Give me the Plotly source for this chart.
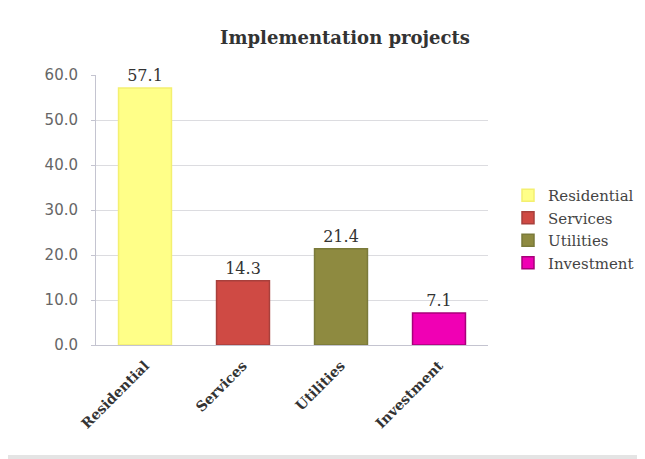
import plotly.graph_objects as go

categories = ["Residential", "Services", "Utilities", "Investment"]
values = [57.1, 14.3, 21.4, 7.1]
labels = ["57.1", "14.3", "21.4", "7.1"]
colors = ["#FFFF88", "#CF4A44", "#8E8A40", "#F000B4"]
edges = ["#F4F070", "#A8403C", "#7A7A3A", "#A8007A"]

W, H = 637, 451
L, R, T, B = 88, 157, 67, 114
PW, PH = W - L - R, H - T - B

fig = go.Figure()
for c, v, t, col, ec in zip(categories, values, labels, colors, edges):
    fig.add_trace(go.Bar(
        x=[c], y=[v], name=c, marker=dict(color=col, line=dict(width=1.5, color=ec)),
        width=0.54, text=[t], textposition="outside", cliponaxis=False,
        textfont=dict(family="DejaVu Serif", size=16, color="#333333"),
    ))

fig.update_layout(
    width=W, height=H,
    paper_bgcolor="white", plot_bgcolor="white",
    barmode="overlay",
    margin=dict(l=L, r=R, t=T, b=B, autoexpand=False),
    title=dict(text="<b>Implementation projects</b>", x=337 / W, xanchor="center", y=1 - 30 / H, yanchor="middle",
               font=dict(family="DejaVu Serif", size=18, color="#333333")),
    legend=dict(x=(500 - L) / PW, y=(H - B - 221) / PH, xanchor="left", yanchor="middle",
                font=dict(family="DejaVu Serif", size=15, color="#444444"),
                itemwidth=30, bgcolor="rgba(0,0,0,0)"),
    showlegend=True,
    shapes=[dict(type="rect", xref="paper", yref="paper",
                 x0=-L / PW, x1=(W - L) / PW, y0=-(B - 0) / PH, y1=-(B - 4) / PH,
                 fillcolor="#E4E4E4", line=dict(width=0), layer="below")],
)
fig.update_xaxes(
    categoryorder="array", categoryarray=categories, automargin=False,
    tickangle=-45, tickfont=dict(family="DejaVu Serif", size=14, color="#333333"),
    tickprefix="<b>", ticksuffix="</b>", ticklabelstandoff=6,
    showline=True, linecolor="#C4C4D0", linewidth=1, ticks="", showgrid=False,
)
fig.update_yaxes(
    range=[0, 60], dtick=10, tickformat=".1f", automargin=False,
    tickfont=dict(family="DejaVu Sans", size=15, color="#666666"),
    showline=True, linecolor="#C4C4D0", linewidth=1,
    ticks="outside", ticklen=4, tickcolor="#C4C4D0", ticklabelstandoff=10,
    showgrid=True, gridcolor="#DCDCE0", gridwidth=1, zeroline=False,
)

fig.write_html("out.html")
